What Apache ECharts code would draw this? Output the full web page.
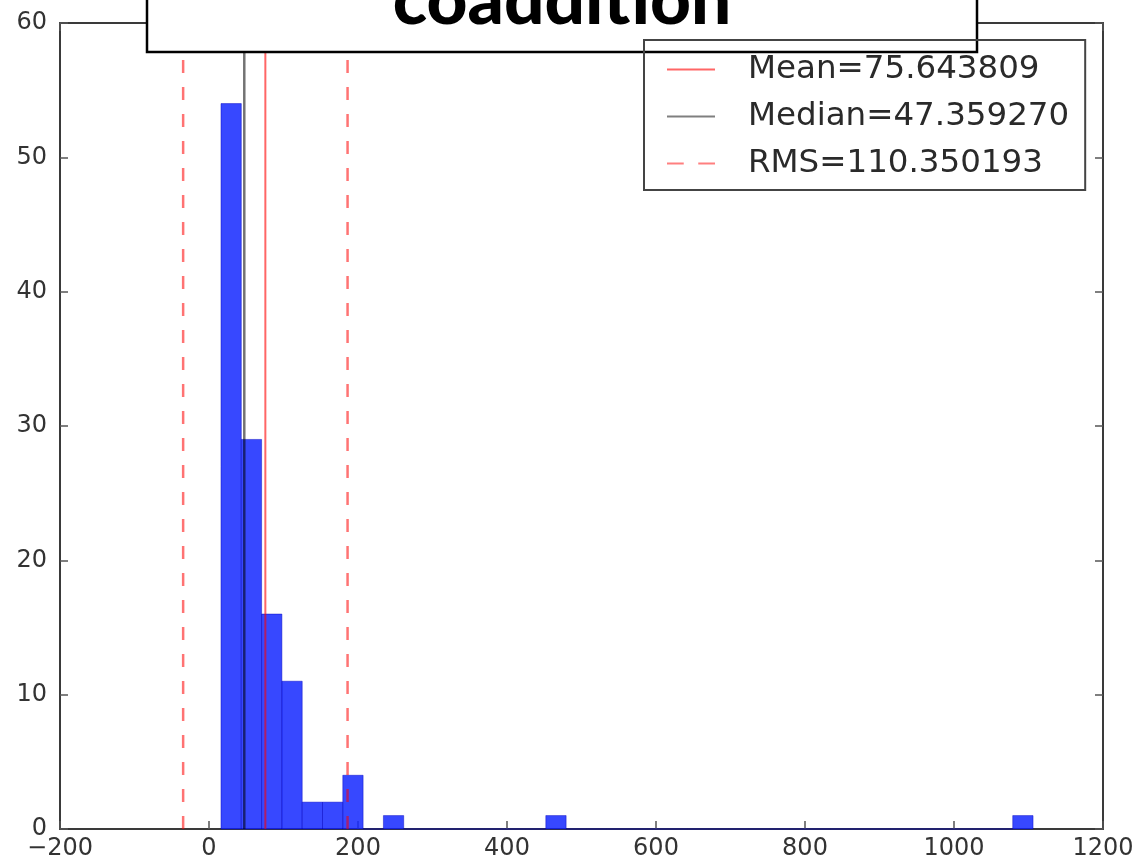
<!DOCTYPE html>
<html>
<head>
<meta charset="utf-8">
<title>coaddition</title>
<script src="https://cdn.jsdelivr.net/npm/echarts@6/dist/echarts.min.js"></script>
<style>
  html, body { margin: 0; padding: 0; background: #ffffff; }
  #chart { width: 1138px; height: 861px; }
</style>
</head>
<body>
<div id="chart"></div>
<script>
// Histogram of per-frame values (40 equal-width bins)
const binStart = 16.1;
const binWidth = 27.25;
const counts = [
  54, 29, 16, 11, 2, 2, 4, 0, 1, 0,
  0, 0, 0, 0, 0, 0, 1, 0, 0, 0,
  0, 0, 0, 0, 0, 0, 0, 0, 0, 0,
  0, 0, 0, 0, 0, 0, 0, 0, 0, 1
];

// Summary statistics
const meanValue = 75.643809;
const medianValue = 47.359270;
const rmsValue = 110.350193;

// Axis ranges
const xRange = [-200, 1200];
const yRange = [0, 60];
const xStep = 200;
const yStep = 10;

const titleText = 'coaddition';
const meanName = 'Mean=' + meanValue.toFixed(6);
const medianName = 'Median=' + medianValue.toFixed(6);
const rmsName = 'RMS=' + rmsValue.toFixed(6);

const bins = counts.map((c, i) => [binStart + i * binWidth, binStart + (i + 1) * binWidth, c]);

const vline = (x) => [[x, yRange[0]], [x, yRange[1]]];

const tickFont = { fontFamily: 'DejaVu Sans', fontSize: 24, color: '#333' };
const minusFmt = (v) => String(v).replace('-', '\u2212');

const axisCommon = {
  axisLine: { show: true, onZero: false, lineStyle: { color: '#3a3a3a', width: 2 } },
  axisTick: { show: true, inside: true, length: 8, lineStyle: { color: '#555', width: 1.5 } },
  splitLine: { show: false }
};

// Legend keys: solid bar for solid lines, two dashes for the RMS line
const solidKey = 'path://M0,0H48V2H0Z';
const dashedKey = 'path://M0,0H15V2H0Z M28,0H43V2H28Z';

const chart = echarts.init(document.getElementById('chart'), null, { renderer: 'canvas' });

chart.setOption({
  animation: false,
  backgroundColor: '#ffffff',
  grid: { left: 60, right: 35, top: 23, bottom: 32, containLabel: false },
  xAxis: [
    Object.assign({
      type: 'value', position: 'bottom', min: xRange[0], max: xRange[1], interval: xStep,
      axisLabel: Object.assign({ margin: 8, formatter: minusFmt }, tickFont)
    }, axisCommon),
    Object.assign({
      type: 'value', position: 'top', min: xRange[0], max: xRange[1], interval: xStep,
      axisLabel: { show: false }
    }, axisCommon)
  ],
  yAxis: [
    Object.assign({
      type: 'value', position: 'left', min: yRange[0], max: yRange[1], interval: yStep,
      axisLabel: Object.assign({ margin: 13 }, tickFont)
    }, axisCommon),
    Object.assign({
      type: 'value', position: 'right', min: yRange[0], max: yRange[1], interval: yStep,
      axisLabel: { show: false }
    }, axisCommon)
  ],
  legend: {
    z: 60,
    data: [
      { name: meanName, icon: solidKey },
      { name: medianName, icon: solidKey },
      { name: rmsName, icon: dashedKey }
    ],
    orient: 'vertical',
    left: 644,
    top: 40,
    padding: [13, 16, 10, 23],
    itemGap: 14,
    itemWidth: 48,
    itemHeight: 3,
    backgroundColor: 'transparent',
    borderColor: '#444',
    borderWidth: 2,
    borderRadius: 0,
    selectedMode: false,
    textStyle: {
      fontFamily: 'DejaVu Sans', fontSize: 32.5, color: '#2a2a2a',
      lineHeight: 33, padding: [0, 0, 0, 28]
    }
  },
  series: [
    {
      type: 'custom',
      name: 'counts',
      z: 2,
      data: bins,
      encode: { x: [0, 1], y: 2 },
      renderItem: function (params, api) {
        const p0 = api.coord([api.value(0), api.value(2)]);
        const p1 = api.coord([api.value(1), 0]);
        return {
          type: 'rect',
          shape: { x: p0[0], y: p0[1], width: p1[0] - p0[0], height: p1[1] - p0[1] },
          style: { fill: 'rgba(20,40,255,0.85)', stroke: 'rgba(0,0,190,0.45)', lineWidth: 1 }
        };
      }
    },
    {
      type: 'line', name: meanName, z: 4, symbol: 'none', data: vline(meanValue),
      lineStyle: { color: 'rgba(255,0,0,0.6)', width: 2 },
      itemStyle: { color: 'rgba(255,0,0,0.6)' }
    },
    {
      type: 'line', name: medianName, z: 4, symbol: 'none', data: vline(medianValue),
      lineStyle: { color: 'rgba(0,0,0,0.55)', width: 2.5 },
      itemStyle: { color: 'rgba(0,0,0,0.5)' }
    },
    {
      type: 'line', name: rmsName, z: 4, symbol: 'none', data: vline(meanValue - rmsValue),
      lineStyle: { color: 'rgba(255,0,0,0.55)', width: 2.5, type: [13, 14] },
      itemStyle: { color: 'rgba(255,0,0,0.5)' }
    },
    {
      type: 'line', name: rmsName, z: 4, symbol: 'none', data: vline(meanValue + rmsValue),
      lineStyle: { color: 'rgba(255,0,0,0.55)', width: 2.5, type: [13, 14] },
      itemStyle: { color: 'rgba(255,0,0,0.5)' }
    }
  ],
  graphic: [
    {
      type: 'rect',
      z: 50,
      shape: { x: 147, y: -30, width: 830, height: 82 },
      style: { fill: '#ffffff', stroke: '#000000', lineWidth: 2.5 }
    },
    {
      type: 'text',
      z: 51,
      x: 562,
      y: -34,
      style: {
        text: titleText,
        font: '900 71px Lato',
        fill: '#000000',
        align: 'center',
        verticalAlign: 'top'
      }
    }
  ]
});
</script>
</body>
</html>
